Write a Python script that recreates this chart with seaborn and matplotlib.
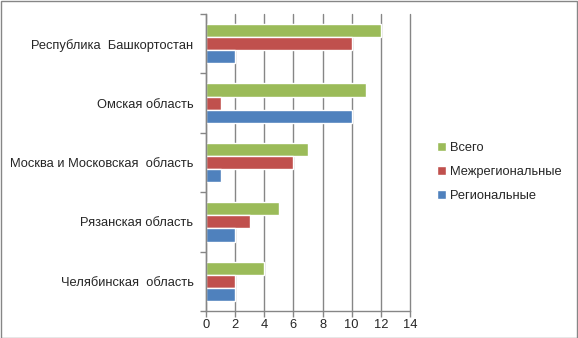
import matplotlib
matplotlib.use("Agg")
import matplotlib.pyplot as plt
import seaborn as sns
import pandas as pd
from matplotlib.patches import Rectangle
from matplotlib.ticker import FixedLocator

categories = ["Республика  Башкортостан", "Омская область", "Москва и Московская  область",
              "Рязанская область", "Челябинская  область"]
series_names = ["Всего", "Межрегиональные", "Региональные"]
vsego = [12, 11, 7, 5, 4]
mezhreg = [10, 1, 6, 3, 2]
regional = [2, 10, 1, 2, 2]
xticks = [0, 2, 4, 6, 8, 10, 12, 14]
colors = ["#9BBB59", "#C0504D", "#4F81BD"]

rows = []
for s, vals in zip(series_names, [vsego, mezhreg, regional]):
    for c, v in zip(categories, vals):
        rows.append({"cat": c, "series": s, "value": v})
df = pd.DataFrame(rows)

sns.set_style("white")
plt.rcParams["font.family"] = ["Liberation Sans", "DejaVu Sans"]

fig = plt.figure(figsize=(5.78, 3.38), dpi=100)
ax = fig.add_axes([206 / 578, 1 - 311 / 338, 204 / 578, 297 / 338])
sns.barplot(data=df, y="cat", x="value", hue="series", order=categories,
            hue_order=series_names, palette=colors, orient="h", width=0.66,
            saturation=1, ax=ax, legend=True)

ax.set_xlim(0, 14)
ax.set_ylim(4.5, -0.5)
ax.set_xticks(xticks)
ax.set_xticklabels([str(t) for t in xticks], fontsize=9.3)
ax.set_xlabel("")
ax.set_ylabel("")
ax.tick_params(axis="y", which="major", length=0, labelsize=9.3, pad=9)
ax.yaxis.set_minor_locator(FixedLocator([-0.5, 0.5, 1.5, 2.5, 3.5, 4.5]))
ax.tick_params(axis="y", which="minor", length=4, color="#868686", width=1, left=True)
ax.tick_params(axis="x", length=4, color="#868686", width=1, bottom=True, pad=2)
ax.grid(axis="x", color="#868686", linewidth=1)
for gl in ax.get_xgridlines():
    gl.set_clip_on(False)
ax.set_axisbelow(True)
for sp in ["top", "right"]:
    ax.spines[sp].set_visible(False)
for sp in ["left", "bottom"]:
    ax.spines[sp].set_color("#868686")
    ax.spines[sp].set_linewidth(1)

handles, labels = ax.get_legend_handles_labels()
ax.legend(handles, labels, loc="upper left", bbox_to_anchor=(432 / 578, 1 - 137 / 338),
          bbox_transform=fig.transFigure, frameon=False, fontsize=9.3,
          handlelength=0.7, handleheight=0.7, handletextpad=0.3, labelspacing=0.9,
          borderaxespad=0)

fig.patches.append(Rectangle((0.5 / 578, 0.5 / 338), 1 - 1.5 / 578, 1 - 1.5 / 338,
                             transform=fig.transFigure, fill=False,
                             edgecolor="#868686", linewidth=1))
fig.savefig("out.png", dpi=100)
